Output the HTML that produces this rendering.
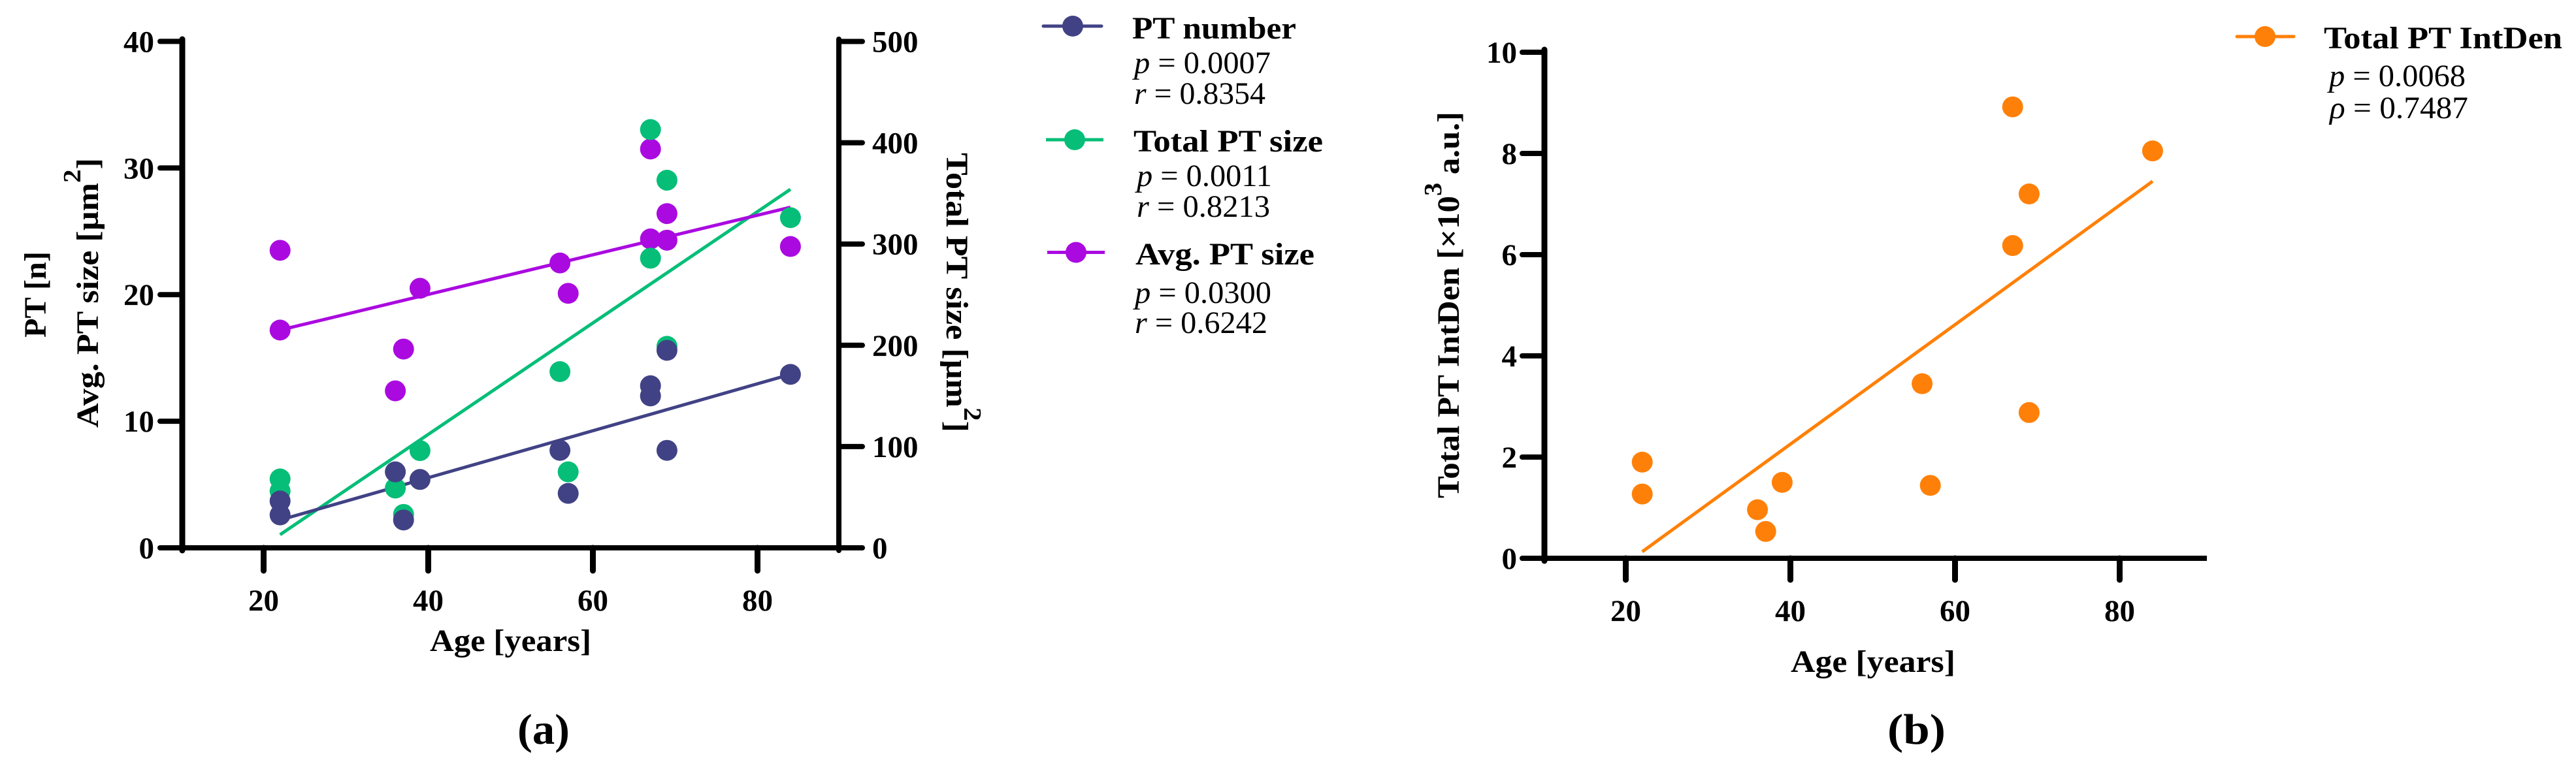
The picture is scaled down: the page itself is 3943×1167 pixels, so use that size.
<!DOCTYPE html>
<html lang="en">
<head>
<meta charset="utf-8">
<title>PT number and size versus age</title>
<style>
html,body{margin:0;padding:0;background:#fff;}
svg{display:block;}
text{font-family:"Liberation Serif",serif;fill:#000;}
.b{font-weight:bold;}
.i{font-style:italic;}
</style>
</head>
<body>
<svg id="fig" xmlns="http://www.w3.org/2000/svg" width="3943" height="1167" viewBox="0 0 3943 1167">
  <rect width="3943" height="1167" fill="#fff"/>
  <g id="chartA"></g>
  <g id="chartB"></g>

  <text class="b" font-size="48" textLength="132" lengthAdjust="spacingAndGlyphs" transform="translate(70,517) rotate(-90)">PT [n]</text>
  <text class="b" font-size="48" textLength="413" lengthAdjust="spacingAndGlyphs" transform="translate(150,655) rotate(-90)">Avg. PT size [µm<tspan font-size="38" dy="-27">2</tspan><tspan dy="27">]</tspan></text>
  <text class="b" font-size="48" textLength="428" lengthAdjust="spacingAndGlyphs" transform="translate(1449,234) rotate(90)">Total PT size [µm<tspan font-size="38" dy="-27">2</tspan><tspan dy="27">]</tspan></text>
  <text class="b" font-size="48" x="658" y="997" textLength="247" lengthAdjust="spacingAndGlyphs">Age [years]</text>
  <text class="b" font-size="66" x="792" y="1139" textLength="80" lengthAdjust="spacingAndGlyphs">(a)</text>

  <g>
    <text class="b" font-size="48" x="1733" y="59" textLength="251" lengthAdjust="spacingAndGlyphs">PT number</text>
    <text font-size="48" x="1736" y="112" textLength="209" lengthAdjust="spacingAndGlyphs"><tspan class="i">p</tspan> = 0.0007</text>
    <text font-size="48" x="1736" y="159" textLength="201" lengthAdjust="spacingAndGlyphs"><tspan class="i">r</tspan> = 0.8354</text>
  </g>
  <g>
    <text class="b" font-size="48" x="1735" y="232" textLength="290" lengthAdjust="spacingAndGlyphs">Total PT size</text>
    <text font-size="48" x="1740" y="285" textLength="207" lengthAdjust="spacingAndGlyphs"><tspan class="i">p</tspan> = 0.0011</text>
    <text font-size="48" x="1740" y="332" textLength="204" lengthAdjust="spacingAndGlyphs"><tspan class="i">r</tspan> = 0.8213</text>
  </g>
  <g>
    <text class="b" font-size="48" x="1738" y="405" textLength="274" lengthAdjust="spacingAndGlyphs">Avg. PT size</text>
    <text font-size="48" x="1737" y="464" textLength="209" lengthAdjust="spacingAndGlyphs"><tspan class="i">p</tspan> = 0.0300</text>
    <text font-size="48" x="1737" y="510" textLength="203" lengthAdjust="spacingAndGlyphs"><tspan class="i">r</tspan> = 0.6242</text>
  </g>

  <text class="b" font-size="48" textLength="592" lengthAdjust="spacingAndGlyphs" transform="translate(2233,763) rotate(-90)">Total PT IntDen [×10<tspan font-size="38" dy="-27">3</tspan><tspan dy="27"> a.u.]</tspan></text>
  <text class="b" font-size="48" x="2741" y="1029" textLength="252" lengthAdjust="spacingAndGlyphs">Age [years]</text>
  <text class="b" font-size="66" x="2889" y="1139" textLength="89" lengthAdjust="spacingAndGlyphs">(b)</text>

  <g>
    <text class="b" font-size="48" x="3557" y="74" textLength="365" lengthAdjust="spacingAndGlyphs">Total PT IntDen</text>
    <text font-size="48" x="3565" y="132" textLength="209" lengthAdjust="spacingAndGlyphs"><tspan class="i">p</tspan> = 0.0068</text>
    <text font-size="48" x="3566" y="181" textLength="212" lengthAdjust="spacingAndGlyphs"><tspan class="i">ρ</tspan> = 0.7487</text>
  </g>
</svg>

<script>
// ---- data ----
var ages = [22, 22, 36, 37, 39, 56, 57, 67, 67, 69, 69, 84];
var ptNumber = [3.7, 2.6, 6.0, 2.2, 5.4, 7.7, 4.3, 12.8, 12.0, 15.6, 7.7, 13.7];
var totalPtSize = [68, 56, 59, 33, 96, 174, 75, 413, 286, 199, 363, 326];
var avgPtSize = [23.5, 17.2, 12.4, 15.7, 20.5, 22.5, 20.1, 31.5, 24.4, 24.3, 26.4, 23.8];
var totalIntDen = [1.9, 1.27, 0.96, 0.53, 1.5, 3.45, 1.44, 8.92, 6.18, 7.2, 2.88, 8.05];

var fitAges = [22, 84];
var fitPtNumber = [2.2, 13.7];
var fitTotalPtSize = [13, 354];
var fitAvgPtSize = [17.2, 26.9];
var fitTotalIntDen = [0.13, 7.45];

var xTicks = [20, 40, 60, 80];
var aLeftTicks = [0, 10, 20, 30, 40];
var aRightTicks = [0, 100, 200, 300, 400, 500];
var bLeftTicks = [0, 2, 4, 6, 8, 10];

// ---- axis functions ----
function xA(v) { return 403.5 + (v - 20) * 12.6; }
function yA(v) { return 839 - v * 19.39; }
function yAR(v) { return 839 - v * 1.551; }
function xB(v) { return 2488.5 + (v - 20) * 12.6; }
function yB(v) { return 855 - v * 77.5; }

var NS = 'http://www.w3.org/2000/svg';
var NAVY = '#414285', GREEN = '#06BE78', PURPLE = '#AA0AE0', ORANGE = '#FF8008';
var chartA = document.getElementById('chartA');
var chartB = document.getElementById('chartB');
var fig = document.getElementById('fig');

function line(parent, x1, y1, x2, y2, color, w, cap) {
  var el = document.createElementNS(NS, 'line');
  el.setAttribute('x1', x1);
  el.setAttribute('y1', y1);
  el.setAttribute('x2', x2);
  el.setAttribute('y2', y2);
  el.setAttribute('stroke', color);
  el.setAttribute('stroke-width', w);
  el.setAttribute('stroke-linecap', cap || 'round');
  parent.appendChild(el);
  return el;
}
function dot(parent, cx, cy, color) {
  var el = document.createElementNS(NS, 'circle');
  el.setAttribute('cx', cx);
  el.setAttribute('cy', cy);
  el.setAttribute('r', 16);
  el.setAttribute('fill', color);
  parent.appendChild(el);
  return el;
}
function label(parent, x, y, str, anchor) {
  var el = document.createElementNS(NS, 'text');
  el.setAttribute('x', x);
  el.setAttribute('y', y);
  el.setAttribute('text-anchor', anchor);
  el.setAttribute('font-size', 47);
  el.setAttribute('font-weight', 'bold');
  el.textContent = str;
  parent.appendChild(el);
  return el;
}

// ---- chart A axes ----
var el;
el = line(chartA, 279, 60, 279, 843, '#000', 9);


el = line(chartA, 1284, 60, 1284, 843, '#000', 8);


el = line(chartA, 279, 839, 1284, 839, '#000', 8, 'butt');



xTicks.forEach(function (t) {
  var tick = line(chartA, xA(t), 839, xA(t), 874, '#000', 9);
  
  
  var txt = label(chartA, xA(t), 935, String(t), 'middle');
  
  
});
aLeftTicks.forEach(function (t) {
  var tick = line(chartA, 245, yA(t), 279, yA(t), '#000', 8);
  
  
  var txt = label(chartA, 236, yA(t) + 16, String(t), 'end');
  
  
});
aRightTicks.forEach(function (t) {
  var tick = line(chartA, 1284, yAR(t), 1320, yAR(t), '#000', 8);
  
  
  var txt = label(chartA, 1335, yAR(t) + 16, String(t), 'start');
  
  
});

// ---- chart A fit lines ----
el = line(chartA, xA(fitAges[0]), yAR(fitTotalPtSize[0]), xA(fitAges[1]), yAR(fitTotalPtSize[1]), GREEN, 5, 'butt');


el = line(chartA, xA(fitAges[0]), yA(fitAvgPtSize[0]), xA(fitAges[1]), yA(fitAvgPtSize[1]), PURPLE, 5, 'butt');


el = line(chartA, xA(fitAges[0]), yA(fitPtNumber[0]), xA(fitAges[1]), yA(fitPtNumber[1]), NAVY, 5, 'butt');



// ---- chart A points ----
ages.forEach(function (a, i) {
  var p = dot(chartA, xA(a), yA(avgPtSize[i]), PURPLE);
  
  
});
ages.forEach(function (a, i) {
  var p = dot(chartA, xA(a), yAR(totalPtSize[i]), GREEN);
  
  
});
ages.forEach(function (a, i) {
  var p = dot(chartA, xA(a), yA(ptNumber[i]), NAVY);
  
  
});

// ---- chart A legend keys ----
el = line(fig, 1597, 40, 1686, 40, NAVY, 5, 'round');


el = dot(fig, 1642, 40, NAVY);


el = line(fig, 1601, 214, 1689, 214, GREEN, 5, 'butt');


el = dot(fig, 1645, 214, GREEN);


el = line(fig, 1603, 386.5, 1691, 386.5, PURPLE, 5, 'butt');


el = dot(fig, 1647, 386.5, PURPLE);



// ---- chart B axes ----
el = line(chartB, 2364, 76, 2364, 859, '#000', 9);


el = line(chartB, 2364, 855, 3378, 855, '#000', 8, 'butt');



xTicks.forEach(function (t) {
  var tick = line(chartB, xB(t), 855, xB(t), 888, '#000', 9);
  
  
  var txt = label(chartB, xB(t), 951, String(t), 'middle');
  
  
});
bLeftTicks.forEach(function (t) {
  var tick = line(chartB, 2330, yB(t), 2364, yB(t), '#000', 8);
  
  
  var txt = label(chartB, 2322, yB(t) + 16, String(t), 'end');
  
  
});

// ---- chart B fit line and points ----
el = line(chartB, xB(fitAges[0]), yB(fitTotalIntDen[0]), xB(fitAges[1]), yB(fitTotalIntDen[1]), ORANGE, 5, 'butt');


ages.forEach(function (a, i) {
  var p = dot(chartB, xB(a), yB(totalIntDen[i]), ORANGE);
  
  
});

// ---- chart B legend key ----
el = line(fig, 3424, 56, 3511, 56, ORANGE, 5, 'round');


el = dot(fig, 3467, 56, ORANGE);


</script>
</body>
</html>
